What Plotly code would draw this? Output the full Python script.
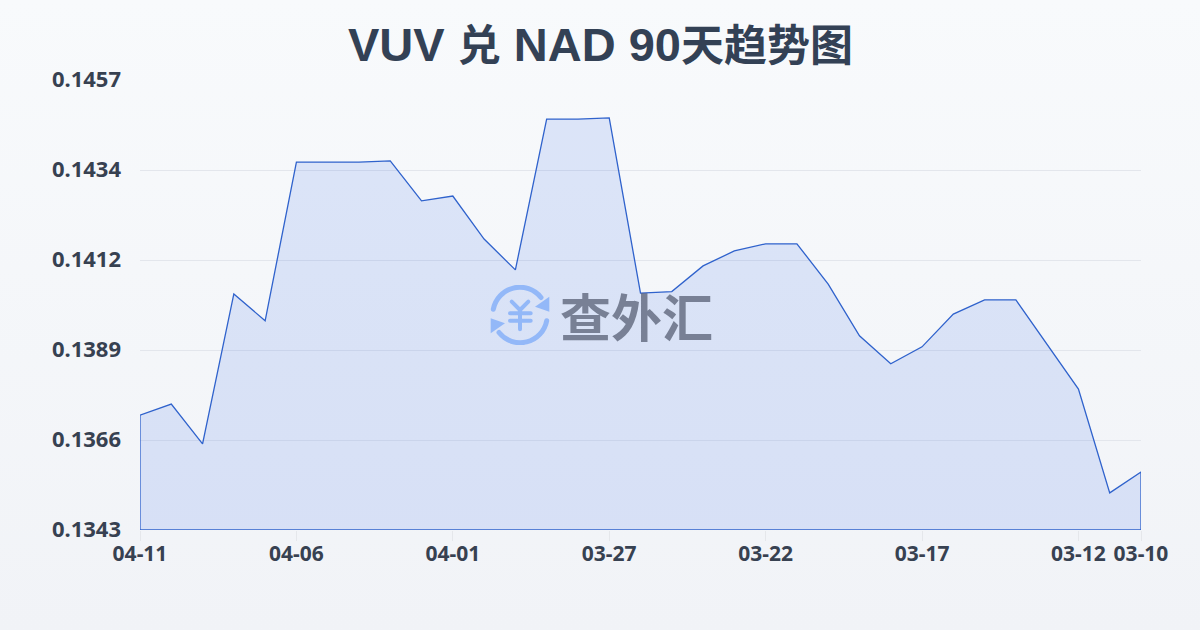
import base64
import re
import plotly.graph_objects as go

dates = ["04-11","04-10","04-09","04-08","04-07","04-06","04-05","04-04","04-03","04-02","04-01",
         "03-31","03-30","03-29","03-28","03-27","03-26","03-25","03-24","03-23","03-22","03-21",
         "03-20","03-19","03-18","03-17","03-16","03-15","03-14","03-13","03-12","03-11","03-10"]
rates = [0.13721,0.13749,0.13648,0.14028,0.13960,0.14362,0.14362,0.14362,0.14365,0.14264,0.14276,
         0.14167,0.14089,0.14471,0.14471,0.14474,0.14030,0.14034,0.14099,0.14137,0.14155,0.14155,
         0.14053,0.13922,0.13851,0.13894,0.13977,0.14013,0.14013,0.13899,0.13787,0.13524,0.13577]
x_ticks = ["04-11","04-06","04-01","03-27","03-22","03-17","03-12","03-10"]
y_ticks = [0.1343,0.13658,0.13886,0.14114,0.14342,0.1457]
y_labels = ["0.1343","0.1366","0.1389","0.1412","0.1434","0.1457"]
title = "VUV 兑 NAD 90天趋势图"
brand = "查外汇"

W, H = 1200, 630
L, R, T, B = 140, 59, 80, 100
PW, PH = W - L - R, H - T - B
INK = "#374151"
TITLE_INK = "#334155"
FONT = "Noto Sans, Noto Sans CJK SC, sans-serif"
TITLE_FONT = "Liberation Sans"

# The reference sets its Chinese glyphs smaller than its Latin ones.
title_markup = re.sub(r"([\u4e00-\u9fff]+)",
                      r'<span style="font-size:43px;font-family:Noto Sans CJK SC">\1</span>', title)

def uri(svg):
    return "data:image/svg+xml;base64," + base64.b64encode(svg.encode()).decode()

bg_svg = ('<svg xmlns="http://www.w3.org/2000/svg" width="1200" height="630" preserveAspectRatio="none">'
          '<defs><linearGradient id="g" x1="0" y1="0" x2="0" y2="1">'
          '<stop offset="0" stop-color="#f8fafc"/><stop offset="1" stop-color="#f1f3f7"/></linearGradient></defs>'
          '<rect width="1200" height="630" fill="url(#g)"/></svg>')

arc = ('<path d="M3.3 24.3A27 27 0 0 1 51 12.5" fill="none" stroke="#93b8f8" stroke-width="5" stroke-linecap="round"/>'
       '<path d="M59.3 11.7L59.3 26.7L45 21.7Z" fill="#93b8f8"/>')
logo_svg = ('<svg xmlns="http://www.w3.org/2000/svg" width="60" height="60" viewBox="0 0 60 60">'
            + arc + '<g transform="rotate(180 30 30)">' + arc + '</g>'
            '<path d="M21.7 16.7L30 25L38.3 16.7M20 28.3H40.7M20 35.7H40.7M30 25V44.3" fill="none" '
            'stroke="#93b8f8" stroke-width="4" stroke-linecap="round" stroke-linejoin="round"/></svg>')

base = y_ticks[0]
fig = go.Figure(go.Scatter(
    x=dates + [dates[-1], dates[0], dates[0]],
    y=rates + [base, base, rates[0]],
    mode="lines", fill="toself",
    line=dict(color="#2f62cc", width=1.3),
    fillcolor="rgba(37,90,235,0.13)",
    hoverinfo="skip", showlegend=False,
    cliponaxis=False,
))
fig.update_layout(
    width=W, height=H, margin=dict(l=L, r=R, t=T, b=B, pad=0),
    paper_bgcolor="#f5f7fa", plot_bgcolor="rgba(0,0,0,0)",
    font=dict(family=FONT, color=INK),
    xaxis=dict(type="category", categoryorder="array", categoryarray=dates, range=[0, len(dates) - 1],
               tickmode="array", tickvals=x_ticks, ticktext=["<b>%s</b>" % t for t in x_ticks],
               tickfont=dict(size=21, color=INK), showgrid=False, zeroline=False, showline=False,
               ticks="outside", ticklen=10, tickcolor="#e5e7eb", tickwidth=1, tickangle=0,
               ticklabelstandoff=-5),
    yaxis=dict(range=[y_ticks[0], y_ticks[-1]], tickmode="array", tickvals=y_ticks,
               ticktext=["<b>%s</b>" % t for t in y_labels], tickfont=dict(size=22, color=INK),
               showgrid=True, gridcolor="#e3e6ec", gridwidth=1, zeroline=False, showline=False,
               ticks="", ticklabelstandoff=18, ticklabelshift=-1),
    images=[
        dict(source=uri(bg_svg), xref="paper", yref="paper", x=-L / PW, y=(PH + T) / PH,
             sizex=W / PW, sizey=H / PH, sizing="stretch", xanchor="left", yanchor="top", layer="below"),
        dict(source=uri(logo_svg), xref="paper", yref="paper", x=(490 - L) / PW, y=(T + PH - 285) / PH,
             sizex=60 / PW, sizey=60 / PH, sizing="stretch", xanchor="left", yanchor="top", layer="above"),
    ],
    annotations=[
        dict(text="<b>%s</b>" % title_markup, xref="paper", yref="paper", x=(600 - L) / PW, y=(T + PH - 42) / PH,
             xanchor="center", yanchor="middle", showarrow=False,
             font=dict(size=47, color=TITLE_INK, family=TITLE_FONT)),
        dict(text="<b>%s</b>" % brand, xref="paper", yref="paper", x=(636 - L) / PW,
             y=(T + PH - 315) / PH, xanchor="center", yanchor="middle", showarrow=False,
             font=dict(size=51, color="rgba(60,68,88,0.62)", family="Noto Sans CJK SC, sans-serif")),
    ],
)
fig.write_html("out.html", config={"displayModeBar": False},
               post_script="document.body.style.margin='0';document.documentElement.style.overflow='hidden';")
